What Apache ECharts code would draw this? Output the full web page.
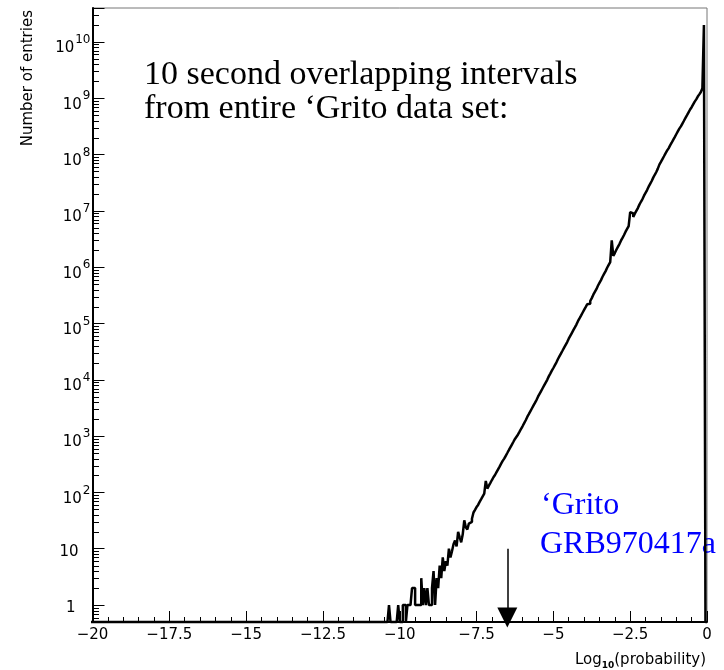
<!DOCTYPE html>
<html><head><meta charset="utf-8">
<script src="https://cdn.jsdelivr.net/npm/echarts/dist/echarts.min.js"></script>
<style>html,body{margin:0;padding:0;background:#fff}#c{width:724px;height:670px}</style>
</head><body><div id="c"></div>
<script>
// ---- data ----
const binStart = -10.5;   // left edge of first bin shown
const binWidth = 0.05;
const counts = [
  0, 0, 0, 1, 0, 0, 0, 0, 0, 1,
  0, 0, 1, 1, 0, 1, 1, 1, 2, 2,
  1, 1, 1, 1, 3, 1, 2, 1, 2, 1,
  1, 2, 4, 1, 3, 2, 5, 3, 7, 4,
  6, 5, 10, 7, 9, 12, 14, 11, 20, 16,
  13, 18, 32, 24, 22, 28, 30, 34, 44, 49,
  55, 60, 68, 76, 85, 95, 160, 117, 132, 148,
  166, 186, 204, 229, 257, 288, 324, 363, 398, 447,
  501, 562, 631, 708, 794, 891, 977, 1070, 1200, 1350,
  1510, 1700, 1910, 2190, 2450, 2750, 3090, 3470, 3890, 4370,
  5010, 5620, 6310, 7080, 7940, 8910, 10000, 11500, 12900, 14500,
  16200, 18200, 20400, 23400, 26300, 29500, 33100, 37200, 41700, 46800,
  53700, 60300, 67600, 75900, 85100, 95500, 110000, 123000, 138000, 155000,
  174000, 195000, 219000, 224000, 251000, 282000, 324000, 363000, 407000, 468000,
  525000, 589000, 676000, 759000, 851000, 977000, 1.10e6, 1.23e6, 3.0e6, 1.58e6,
  1.78e6, 2.04e6, 2.29e6, 2.57e6, 2.95e6, 3.31e6, 3.72e6, 4.27e6, 4.79e6, 5.37e6,
  9.5e6, 9.0e6, 7.76e6, 8.91e6, 1.0e7, 1.12e7, 1.29e7, 1.45e7, 1.62e7, 1.86e7,
  2.09e7, 2.34e7, 2.69e7, 3.02e7, 3.39e7, 3.89e7, 4.37e7, 4.9e7, 5.62e7, 6.61e7,
  7.41e7, 8.32e7, 9.33e7, 1.05e8, 1.17e8, 1.29e8, 1.45e8, 1.62e8, 1.82e8, 2.04e8,
  2.29e8, 2.57e8, 2.88e8, 3.16e8, 3.55e8, 3.98e8, 4.47e8, 5.01e8, 5.62e8, 6.31e8,
  6.92e8, 7.76e8, 8.71e8, 9.55e8, 1.07e9, 1.17e9, 1.29e9, 1.5e9, 2.0e10, 0
];
const emptyFrom = -23;    // histogram is empty from here up to binStart
const xTicks = [-20, -17.5, -15, -12.5, -10, -7.5, -5, -2.5, 0];
const xTickLabels = ['\u221220', '\u221217.5', '\u221215', '\u221212.5', '\u221210', '\u22127.5', '\u22125', '\u22122.5', '0'];
const yDecades = [0, 1, 2, 3, 4, 5, 6, 7, 8, 9, 10];
const yMinCount = 0.5, yMaxCount = 4e10;
const arrowX = -6.5, arrowFrom = 10, arrowTo = 0.6;
const titleLines = ['10 second overlapping intervals', 'from entire \u2018Grito data set:'];
const burstLines = ['\u2018Grito', 'GRB970417a'];

// ---- build ----
const yLo = Math.log10(yMinCount), yHi = Math.log10(yMaxCount);
const lg = v => (v > 0 ? Math.log10(v) : yLo);
const pts = [[emptyFrom, yLo]];
counts.forEach((c, i) => pts.push([binStart + i * binWidth, lg(c)]));
const xEnd = binStart + counts.length * binWidth;
pts.push([xEnd, lg(counts[counts.length - 1])]);
pts.push([xEnd, yLo]);

const minorVals = [];
for (let n = -1; n <= 10; n++) for (let k = 2; k <= 9; k++) {
  const v = Math.log10(k * Math.pow(10, n));
  if (v > yLo && v < yHi) minorVals.push([-20, v]);
}

const chart = echarts.init(document.getElementById('c'));
const sans = '"DejaVu Sans", sans-serif';
chart.setOption({
  animation: false,
  backgroundColor: '#fff',
  grid: { left: 92.5, right: 17, top: 8, bottom: 48, show: true, borderColor: '#777', borderWidth: 1 },
  xAxis: {
    type: 'value', min: -20, max: 0, interval: 2.5,
    axisLine: { show: true, onZero: false, lineStyle: { color: '#000', width: 2 } },
    axisTick: { show: true, inside: true, length: 11, lineStyle: { color: '#000', width: 1 } },
    minorTick: { show: true, splitNumber: 5, length: 5, lineStyle: { color: '#000', width: 1 } },
    splitLine: { show: false }, minorSplitLine: { show: false },
    axisLabel: {
      margin: 6, color: '#000', fontFamily: sans, fontSize: 15,
      formatter: v => { const i = xTicks.findIndex(t => Math.abs(t - v) < 1e-6); return i >= 0 ? xTickLabels[i] : ''; }
    }
  },
  yAxis: {
    type: 'value', min: yLo, max: yHi, splitNumber: 11,
    axisLine: { show: true, onZero: false, lineStyle: { color: '#000', width: 2 } },
    axisTick: { show: true, inside: true, length: 12, lineStyle: { color: '#000', width: 1 } },
    splitLine: { show: false },
    axisLabel: {
      align: 'right', margin: 2, color: '#000', padding: [6, 0, 0, 0],
      formatter: v => {
        const n = Math.round(v);
        if (Math.abs(v - n) > 1e-6 || yDecades.indexOf(n) < 0) return '';
        if (n === 0) return '{one|1}';
        if (n === 1) return '{ten|10}';
        return '{b|10}{s|' + n + '}';
      },
      rich: {
        b: { fontFamily: sans, fontSize: 15, color: '#000', lineHeight: 22, verticalAlign: 'bottom' },
        ten: { fontFamily: sans, fontSize: 15, color: '#000', lineHeight: 22, padding: [0, 12, 0, 0] },
        one: { fontFamily: sans, fontSize: 15, color: '#000', lineHeight: 22, padding: [0, 15, 0, 0] },
        s: { fontFamily: sans, fontSize: 12, color: '#000', lineHeight: 14, verticalAlign: 'top', padding: [0, 0, 0, 1] }
      }
    }
  },
  series: [
    {
      type: 'line', step: 'end', data: pts, symbol: 'none', clip: false, silent: true,
      lineStyle: { color: '#000', width: 2.5 },
      markLine: {
        silent: true, symbol: ['none', 'triangle'], symbolSize: [20, 20],
        label: { show: false }, lineStyle: { color: '#000', width: 1.5, type: 'solid' },
        data: [[{ coord: [arrowX, lg(arrowFrom)] }, { coord: [arrowX, lg(arrowTo)] }]]
      }
    },
    {
      type: 'custom', data: minorVals, silent: true, clip: true,
      encode: { x: 0, y: 1 },
      renderItem: (params, api) => {
        const p = api.coord([api.value(0), api.value(1)]);
        const y = Math.round(p[1]) + 0.5;
        return { type: 'line', shape: { x1: p[0], y1: y, x2: p[0] + 6.5, y2: y }, style: { stroke: '#000', lineWidth: 1 } };
      }
    }
  ],
  graphic: [
    { type: 'text', x: 144, y: 75, style: { text: titleLines[0], font: '34px "Liberation Serif"', fill: '#000', verticalAlign: 'middle' } },
    { type: 'text', x: 144, y: 109, style: { text: titleLines[1], font: '34px "Liberation Serif"', fill: '#000', verticalAlign: 'middle' } },
    { type: 'text', x: 541, y: 506, style: { text: burstLines[0], font: '32px "Liberation Serif"', fill: '#0000ff', verticalAlign: 'middle' } },
    { type: 'text', x: 540, y: 545, style: { text: burstLines[1], font: '32px "Liberation Serif"', fill: '#0000ff', verticalAlign: 'middle' } },
    { type: 'text', x: 28.5, y: 10, rotation: Math.PI / 2,
      style: { text: 'Number of entries', font: '15px "DejaVu Sans"', fill: '#000', align: 'right', verticalAlign: 'middle' } },
    { type: 'text', x: 706, y: 660,
      style: { text: '{a|Log}{s|10}{a|(probability)}', align: 'right', verticalAlign: 'middle',
        rich: {
          a: { fontFamily: sans, fontSize: 15, fill: '#000', color: '#000', lineHeight: 20 },
          s: { fontFamily: sans, fontSize: 9, fontWeight: 'bold', fill: '#000', color: '#000', lineHeight: 12, verticalAlign: 'bottom' }
        } } }
  ]
});
</script>
</body></html>
